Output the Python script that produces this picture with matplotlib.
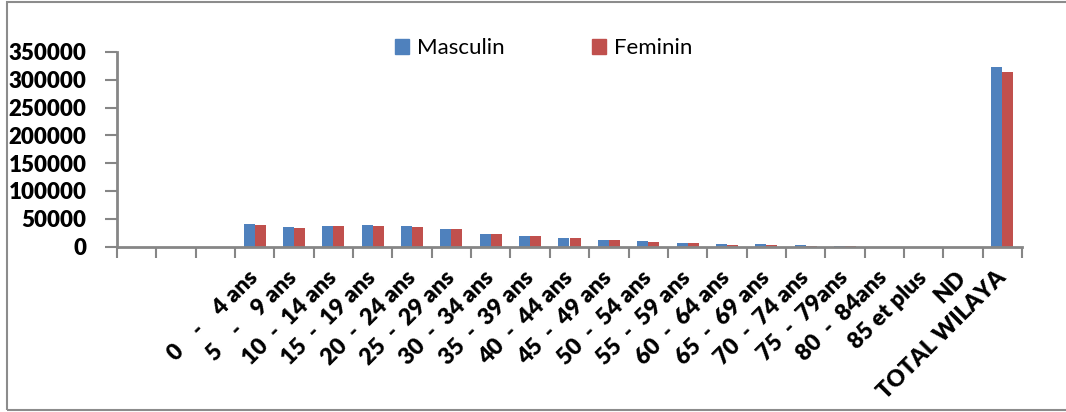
import numpy as np
import matplotlib.pyplot as plt
from matplotlib.patches import Rectangle, Patch

# population by age group
groups = ['', '', '',
          '0    -    4 ans', '5    -    9 ans', '10  -  14 ans', '15  -  19 ans',
          '20  -  24 ans', '25  -  29 ans', '30  -  34 ans', '35  -  39 ans',
          '40  -  44 ans', '45  -  49 ans', '50  -  54 ans', '55  -  59 ans',
          '60  -  64 ans', '65  -  69 ans', '70  -  74 ans', '75  -  79ans',
          '80  -  84ans', '85 et plus', 'ND', 'TOTAL WILAYA']
masculin = [0, 0, 0,
            40400, 35000, 37300, 38600, 36100, 30700, 22400, 18700,
            14500, 12100, 9600, 6600, 3600, 3600, 1800, 900,
            0, 0, 0, 323700]
feminin = [0, 0, 0,
           37900, 33200, 36100, 37300, 35500, 30700, 22400, 18700,
           14500, 12100, 7800, 5400, 3200, 2600, 1700, 800,
           0, 0, 0, 314000]

plt.rcParams['font.family'] = ['Lato', 'DejaVu Sans']

fig = plt.figure(figsize=(10.66, 4.12), dpi=100)
ax = fig.add_axes([117/1066, 165.5/412, 905/1066, 194.5/412])

x = np.arange(len(groups))
w = 0.28
ax.bar(x - w/2, masculin, w, color='#4F81BD')
ax.bar(x + w/2, feminin, w, color='#C0504D')

ax.set_xlim(-0.5, len(groups) - 0.5)
ax.set_ylim(0, 350000)
ax.set_yticks(np.arange(0, 350001, 50000))
ax.tick_params(axis='y', labelsize=16, length=9, width=1.5, color='#868686', pad=13)
for t in ax.get_yticklabels():
    t.set_fontweight('heavy')

# ticks between categories, labels at category centres
ax.set_xticks(np.arange(len(groups) + 1) - 0.5, minor=False)
ax.set_xticklabels([])
ax.set_xticks(x, minor=True)
ax.set_xticklabels(groups, minor=True, rotation=45, ha='right', va='center',
                   rotation_mode='anchor', fontsize=16.5, fontweight='heavy')
ax.tick_params(axis='x', which='major', length=8, width=1.5, color='#868686')
ax.tick_params(axis='x', which='minor', length=0, pad=20)

for s in ['top', 'right']:
    ax.spines[s].set_visible(False)
for s in ['left', 'bottom']:
    ax.spines[s].set_color('#868686')
    ax.spines[s].set_linewidth(2)

handles = [Patch(color='#4F81BD', label='Masculin'),
           Patch(color='#C0504D', label='Feminin')]
fig.legend(handles=handles, loc='center left', bbox_to_anchor=(395/1066, 1 - 48/412),
           ncol=2, frameon=False, fontsize=16, handlelength=0.65, handleheight=0.65,
           handletextpad=0.35, columnspacing=3.9, borderpad=0, borderaxespad=0)

# outer chart border
fig.patches.append(Rectangle((7/1066, 2/412), 1.2, 408/412, transform=fig.transFigure,
                             fill=False, edgecolor='#8c8c8c', linewidth=1.5))

fig.savefig('out.png', dpi=100)
